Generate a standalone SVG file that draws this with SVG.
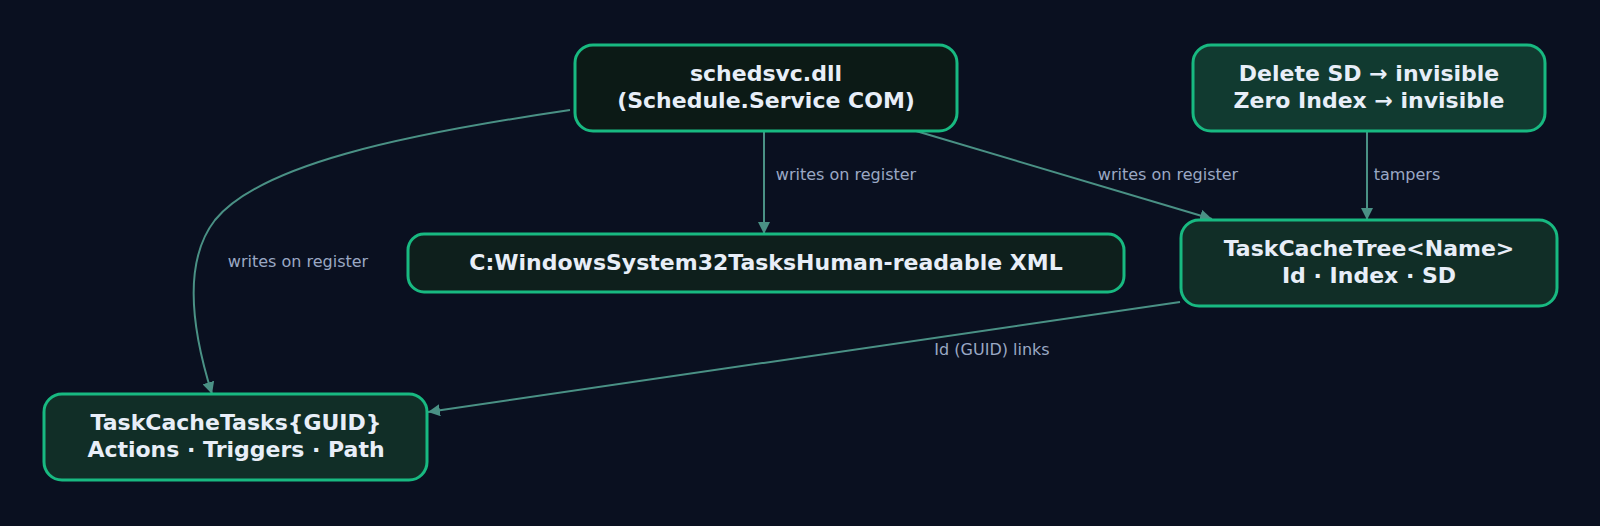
<svg xmlns="http://www.w3.org/2000/svg" width="1600" height="526" viewBox="0 0 1600 526">
<style>
.n{stroke:#18b981;stroke-width:3}
.t{font-family:"DejaVu Sans",sans-serif;font-weight:bold;font-size:22px;fill:#e8eef8;text-anchor:middle}
.l{font-family:"DejaVu Sans",sans-serif;font-size:16px;fill:#9aa8c4;text-anchor:middle}
.e{fill:none;stroke:#4a9185;stroke-width:2;marker-end:url(#a)}
</style>
<defs><marker id="a" viewBox="0 0 10 10" refX="10" refY="5" markerWidth="6" markerHeight="6" orient="auto" markerUnits="strokeWidth"><path d="M0,0L10,5L0,10z" fill="#4a9185"/></marker></defs>
<rect width="1600" height="526" fill="#0a1020"/>
<g id="edges">
<path class="e" d="M570,110 C400,135 260,165 215,220 C180,265 195,340 212,394"/>
<path class="e" d="M764,130 L764,234"/>
<path class="e" d="M916,131 L1212,219"/>
<path class="e" d="M1367,130 L1367,220"/>
<path class="e" d="M1180,302 L428,412"/>
<text class="l" x="298" y="267">writes on register</text>
<text class="l" x="846" y="180">writes on register</text>
<text class="l" x="1168" y="180">writes on register</text>
<text class="l" x="1407" y="180">tampers</text>
<text class="l" x="992" y="355">Id (GUID) links</text>
</g>
<g id="schedsvc"><rect class="n" x="575" y="45" width="382" height="86" rx="18" fill="#0c1a16"/>
<text class="t" x="766" y="81">schedsvc.dll</text><text class="t" x="766" y="108">(Schedule.Service COM)</text></g>
<g id="delete"><rect class="n" x="1193" y="45" width="352" height="86" rx="18" fill="#113a30"/>
<text class="t" x="1369" y="81">Delete SD → invisible</text><text class="t" x="1369" y="108">Zero Index → invisible</text></g>
<g id="xml"><rect class="n" x="408" y="234" width="716" height="58" rx="16" fill="#0e1f1c"/>
<text class="t" x="766" y="270">C:WindowsSystem32TasksHuman-readable XML</text></g>
<g id="tree"><rect class="n" x="1181" y="220" width="376" height="86" rx="18" fill="#112e27"/>
<text class="t" x="1369" y="256">TaskCacheTree&lt;Name&gt;</text><text class="t" x="1369" y="283">Id · Index · SD</text></g>
<g id="tasks"><rect class="n" x="44" y="394" width="383" height="86" rx="18" fill="#112e27"/>
<text class="t" x="236" y="430">TaskCacheTasks{GUID}</text><text class="t" x="236" y="457">Actions · Triggers · Path</text></g>
</svg>
